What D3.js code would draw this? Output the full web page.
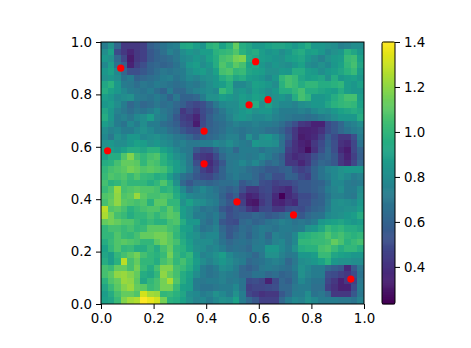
<!DOCTYPE html>
<html><head><meta charset="utf-8">
<script src="https://cdn.jsdelivr.net/npm/d3@7"></script>
<style>html,body{margin:0;padding:0;background:#fff}svg{display:block}text{font-family:"DejaVu Sans",sans-serif}</style>
</head><body><div id="c"></div>
<script>
// heat values, top row first (40 x 40)
const gridRows = [
[.72,.82,.62,.42,.42,.42,.45,.58,.62,.68,.72,.74,.92,.94,.88,.84,.98,1.0,.9,.98,1.12,.96,.92,.86,.86,.9,.92,.92,.9,.85,.9,.95,.85,.85,.82,.8,.74,.76,.8,.8],
[.8,.9,.5,.42,.36,.42,.46,.55,.6,.66,.75,.7,.8,.85,.82,.88,.88,.98,1.0,1.02,1.08,.98,.92,.95,.88,.84,.86,.8,.85,.92,.95,.88,.9,.85,.78,.82,.85,.98,.92,.85],
[.85,.82,.62,.48,.32,.42,.46,.55,.6,.62,.65,.7,.78,.8,.85,.82,.9,.96,1.05,1.08,1.15,1.18,.95,.92,.88,.86,.84,.82,.88,.9,.92,.85,.8,.75,.82,.86,.88,1.02,1.04,.9],
[.78,.88,.68,.58,.35,.45,.52,.6,.62,.6,.62,.68,.75,.85,.88,.8,.85,.95,1.08,1.02,1.1,1.05,.9,.92,.85,.8,.85,.82,.8,.85,.9,.8,.78,.82,.78,.85,.9,1.0,1.05,.92],
[.85,.9,.78,.62,.52,.52,.55,.6,.65,.7,.68,.7,.72,.8,.85,.88,.82,.9,1.05,1.08,1.0,1.02,.92,.9,.88,.82,.82,.86,.85,.95,.95,.88,.86,.8,.85,.88,.92,.98,1.02,.88],
[.82,.85,.8,.68,.72,.6,.62,.65,.68,.72,.74,.68,.72,.78,.75,.8,.82,.85,.95,1.0,.92,.95,.88,.86,.84,.78,.85,1.0,1.05,1.02,.92,.88,.9,.92,.82,.95,.85,.88,.9,.85],
[.92,.98,.85,.72,.7,.65,.7,.68,.72,.7,.68,.65,.68,.72,.7,.75,.8,.85,.88,.95,.78,.78,.82,.9,.88,.85,.8,.98,1.05,1.02,.95,1.0,1.0,.95,.95,.98,1.0,.88,.85,.9],
[.95,.9,.85,.78,.72,.7,.68,.72,.65,.6,.72,.62,.62,.7,.75,.78,.8,.78,1.02,.95,.82,.85,.8,.88,.85,.8,.85,.95,.95,1.0,1.05,.95,.95,.92,.9,.88,.95,.88,.85,.85],
[.88,.85,.78,.8,.82,.72,.7,.68,.72,.68,.6,.7,.6,.6,.62,.72,.82,.82,.88,.85,.82,.88,.85,.9,.88,.8,.82,.85,.8,.95,1.05,1.0,.85,.85,.88,.95,1.0,1.05,1.05,.88],
[.85,.88,.8,.72,.62,.68,.62,.65,.7,.65,.68,.62,.58,.52,.48,.52,.6,.7,.78,.8,.8,.88,.9,.95,.82,.9,.82,.78,.78,.75,.8,.82,.85,.85,.92,.98,1.0,1.02,1.0,.9],
[.92,.85,.75,.7,.65,.7,.68,.72,.78,.7,.66,.6,.42,.48,.42,.5,.55,.62,.7,.78,.8,.85,.88,.82,.85,.85,.78,.72,.72,.72,.75,.72,.78,.82,.8,.85,.9,.92,.95,.92],
[.95,.85,.72,.75,.7,.78,.8,.88,.75,.72,.65,.55,.45,.42,.36,.48,.58,.65,.68,.75,.82,.85,.82,.78,.78,.8,.75,.72,.7,.68,.68,.65,.68,.72,.75,.8,.85,.85,.85,.95],
[.88,.82,.72,.68,.78,.72,.8,.72,.72,.65,.62,.58,.48,.45,.33,.5,.58,.62,.65,.7,.75,.72,.72,.75,.72,.72,.7,.65,.58,.52,.42,.4,.35,.35,.5,.55,.62,.72,.75,.8],
[.8,.75,.78,.72,.72,.78,.82,.78,.72,.72,.66,.62,.55,.5,.48,.55,.6,.62,.66,.72,.7,.68,.7,.72,.7,.66,.65,.6,.52,.42,.34,.35,.36,.4,.5,.55,.62,.68,.72,.75],
[.78,.7,.82,.78,.85,.85,.78,.8,.82,.78,.75,.7,.68,.62,.55,.6,.62,.65,.7,.75,.75,.68,.82,.72,.82,.85,.78,.68,.55,.42,.32,.35,.38,.45,.58,.5,.42,.42,.52,.72],
[.82,.85,.8,.8,.85,.9,.88,.82,.85,.8,.78,.72,.75,.7,.7,.72,.72,.78,.75,.8,.75,.72,.7,.85,.82,.82,.8,.66,.5,.4,.35,.32,.42,.5,.6,.52,.4,.38,.48,.68],
[.88,.88,.85,.9,.95,.95,.92,.98,.98,.9,.85,.78,.72,.7,.55,.48,.5,.58,.68,.72,.62,.72,.72,.72,.68,.72,.7,.68,.45,.4,.36,.28,.4,.52,.62,.52,.38,.33,.48,.6],
[.88,.95,.95,1.08,1.18,1.05,1.0,1.05,1.08,.98,.9,.82,.78,.7,.45,.42,.4,.5,.62,.7,.7,.72,.7,.72,.78,.72,.65,.58,.42,.38,.4,.42,.52,.58,.62,.55,.42,.35,.45,.58],
[.95,.98,1.05,1.12,1.12,1.1,1.0,1.08,1.05,.98,.92,.88,.8,.7,.52,.42,.38,.45,.55,.7,.72,.78,.72,.78,.7,.62,.66,.6,.42,.42,.36,.42,.55,.62,.6,.55,.42,.38,.48,.62],
[1.0,1.05,1.08,1.1,1.15,1.12,1.08,1.1,1.08,1.05,.98,.88,.82,.72,.58,.46,.4,.48,.6,.7,.72,.7,.65,.62,.6,.55,.55,.58,.6,.5,.46,.5,.6,.68,.75,.78,.82,.85,.85,.85],
[1.02,1.08,1.05,1.08,1.02,1.08,1.02,1.0,.95,.98,.88,.78,.68,.62,.55,.5,.48,.55,.6,.68,.72,.68,.68,.62,.55,.6,.52,.52,.6,.58,.5,.46,.6,.68,.72,.78,.82,.78,.72,.75],
[1.05,.98,1.0,1.05,1.0,1.0,1.0,.95,1.0,1.08,.98,.82,.62,.55,.62,.62,.6,.62,.65,.65,.68,.55,.6,.62,.52,.5,.45,.48,.48,.52,.55,.55,.58,.6,.68,.78,.78,.72,.7,.72],
[1.02,1.08,1.22,1.05,1.08,1.1,1.08,1.08,1.05,.98,1.0,.92,.78,.65,.72,.78,.72,.68,.62,.58,.62,.52,.42,.42,.48,.5,.42,.4,.38,.48,.55,.55,.58,.62,.72,.76,.8,.72,.72,.8],
[1.08,1.1,1.2,1.08,1.1,1.22,1.1,1.05,1.05,1.08,1.05,.95,.85,.78,.75,.75,.72,.7,.6,.52,.58,.42,.35,.38,.45,.48,.38,.25,.38,.42,.5,.5,.55,.6,.68,.75,.75,.72,.7,.82],
[1.05,1.12,1.2,1.1,1.08,1.05,1.08,.98,1.1,1.1,1.0,1.0,.82,.9,.82,.8,.75,.72,.62,.55,.52,.45,.32,.3,.42,.48,.36,.35,.4,.38,.52,.52,.58,.6,.7,.8,.82,.8,.78,.85],
[1.28,1.08,1.1,1.05,.98,1.02,1.05,1.08,1.08,1.02,1.1,1.02,.88,.82,.75,.68,.7,.68,.55,.5,.55,.52,.42,.38,.48,.5,.42,.42,.5,.52,.5,.55,.6,.62,.72,.8,.8,.82,.82,.88],
[1.25,1.15,1.05,1.02,.95,1.0,1.0,1.05,1.0,1.05,1.1,1.08,.88,.82,.72,.72,.68,.72,.62,.52,.55,.58,.58,.62,.6,.55,.58,.62,.68,.6,.55,.62,.66,.68,.78,.8,.82,.85,.88,.95],
[1.12,1.15,1.12,1.08,1.08,1.02,.98,1.02,.98,.98,1.05,1.08,.95,.85,.85,.7,.65,.72,.55,.52,.5,.62,.65,.6,.62,.68,.7,.75,.72,.68,.7,.68,.72,.85,.88,.9,.92,.88,.85,.88],
[1.0,1.05,1.05,1.02,1.05,1.0,1.02,1.1,1.1,1.1,1.05,1.02,.9,.88,.78,.68,.7,.75,.62,.55,.58,.65,.62,.68,.72,.7,.68,.72,.72,.7,.72,.82,.85,.92,1.02,.98,1.0,.95,.95,.92],
[1.0,1.0,1.08,1.02,1.0,1.05,1.12,1.12,1.15,1.15,1.1,1.0,.92,.85,.82,.75,.78,.78,.65,.55,.62,.66,.6,.68,.72,.62,.75,.72,.7,.78,.95,.98,1.0,1.02,1.08,1.02,1.05,1.0,.98,1.0],
[.95,1.02,1.08,1.1,1.08,1.05,1.0,1.0,1.1,1.15,1.1,1.05,.95,.88,.8,.8,.8,.75,.68,.62,.66,.68,.65,.7,.72,.68,.75,.78,.7,.78,1.0,1.0,1.02,1.02,1.04,1.12,1.06,.98,1.02,1.05],
[.9,1.0,1.08,1.0,1.02,.95,.95,1.02,.95,1.05,1.12,1.0,.98,.9,.82,.8,.75,.78,.72,.65,.68,.66,.62,.72,.72,.85,.85,.78,.72,.82,.95,.98,.98,1.05,1.08,1.02,.95,1.0,1.0,.95],
[.92,.88,1.0,1.05,1.1,1.15,1.05,1.0,.98,1.02,1.15,1.02,.95,1.0,.85,.75,.78,.82,.88,.78,.72,.7,.68,.62,.7,.82,.82,.75,.7,.72,.85,.85,.88,1.02,1.02,.92,.9,.88,.85,.85],
[.95,.88,.98,1.28,1.05,1.12,1.0,1.0,.95,1.05,1.1,1.0,1.05,.98,.88,.8,.75,.8,.85,.8,.75,.72,.62,.65,.68,.72,.75,.72,.62,.7,.8,.82,.85,.9,.98,.85,.82,.82,.8,.8],
[1.05,1.02,1.12,1.12,1.05,1.15,1.02,.95,1.05,1.18,1.18,1.05,1.02,.95,.85,.72,.68,.72,.8,.78,.72,.62,.58,.62,.7,.72,.7,.68,.65,.72,.82,.78,.72,.72,.62,.58,.55,.38,.55,.7],
[1.05,1.1,1.2,1.22,1.18,1.12,.95,.92,1.0,1.2,1.12,1.05,.95,.9,.8,.72,.68,.7,.75,.72,.7,.62,.62,.68,.68,.62,.65,.6,.62,.68,.82,.76,.72,.72,.52,.5,.45,.42,.5,.68],
[.98,1.08,1.12,1.22,1.2,1.1,.92,1.0,1.05,1.15,1.25,1.08,.95,.88,.72,.7,.72,.72,.75,.7,.72,.68,.5,.52,.48,.34,.5,.62,.58,.68,.78,.72,.68,.68,.48,.42,.35,.42,.45,.7],
[.92,1.02,1.1,1.18,1.22,1.12,1.1,1.02,1.05,1.15,1.15,1.02,.9,.88,.72,.68,.68,.7,.72,.72,.78,.68,.45,.48,.48,.5,.52,.62,.62,.7,.72,.72,.66,.66,.45,.4,.34,.35,.5,.72],
[.88,.95,1.05,1.12,1.12,1.08,1.32,1.24,1.22,1.0,1.02,.98,.92,.8,.78,.72,.75,.82,.78,.72,.82,.72,.48,.44,.4,.42,.42,.55,.62,.72,.72,.8,.68,.7,.62,.42,.42,.42,.55,.7],
[.9,.92,1.02,1.18,1.24,1.26,1.4,1.36,1.32,1.15,.98,.95,.9,.82,.76,.78,.72,.78,.82,.8,.9,.72,.62,.55,.46,.46,.46,.62,.72,.78,.75,.82,.78,.72,.72,.72,.7,.7,.68,.75]
];
const pointX = [.075,.588,.563,.635,.392,.025,.392,.517,.732,.95];
const pointY = [.90,.925,.76,.78,.66,.585,.535,.39,.34,.095];
const axisTicks = [0,.2,.4,.6,.8,1];
const colorTicks = [.4,.6,.8,1,1.2,1.4];
const valueMin = .235, valueMax = 1.4;

const W=471,H=348;
const svg=d3.select("#c").append("svg").attr("width",W).attr("height",H);
const box={l:101,r:364,t:42,b:304};
const x=d3.scaleLinear().domain([0,1]).range([box.l,box.r]);
const y=d3.scaleLinear().domain([0,1]).range([box.b,box.t]);
const color=d3.scaleSequential(d3.interpolateViridis).domain([valueMin,valueMax]);
const n=gridRows.length;
const cells=gridRows.flatMap((r,j)=>r.map((v,i)=>({i,j,v})));
const defs=svg.append("defs");
defs.append("filter").attr("id","soft").attr("x",0).attr("y",0).attr("width",1).attr("height",1)
 .append("feGaussianBlur").attr("stdDeviation",.5).attr("edgeMode","duplicate");
svg.append("g").attr("filter","url(#soft)").attr("shape-rendering","crispEdges")
 .selectAll("rect").data(cells).join("rect")
 .attr("x",d=>x(d.i/n)).attr("y",d=>y(1-d.j/n))
 .attr("width",d=>x((d.i+1)/n)-x(d.i/n))
 .attr("height",d=>y(1-(d.j+1)/n)-y(1-d.j/n))
 .attr("fill",d=>color(d.v));
svg.append("g").selectAll("circle").data(pointX.map((p,i)=>[p,pointY[i]])).join("circle")
 .attr("cx",d=>x(d[0])).attr("cy",d=>y(d[1])).attr("r",3.6).attr("fill","#ff0000");
function style(g){
 g.selectAll("text").attr("font-size",13.4).attr("fill","#000").attr("font-family","DejaVu Sans");
 g.selectAll("line").attr("stroke","#000").attr("stroke-width",1);
 g.select(".domain").attr("stroke","none");
}
const fmt=d3.format(".1f");
svg.append("g").attr("transform",`translate(0,${box.b})`)
 .call(d3.axisBottom(x).tickValues(axisTicks).tickFormat(fmt).tickSize(5).tickPadding(4)).call(style);
svg.append("g").attr("transform",`translate(${box.l},0)`)
 .call(d3.axisLeft(y).tickValues(axisTicks).tickFormat(fmt).tickSize(5).tickPadding(4)).call(style);
svg.append("rect").attr("x",box.l).attr("y",box.t).attr("width",box.r-box.l).attr("height",box.b-box.t)
 .attr("fill","none").attr("stroke","#000").attr("stroke-width",1);
// colour bar
const cb={l:382,r:395};
const cy=d3.scaleLinear().domain([valueMin,valueMax]).range([box.b,box.t]);
const bands=d3.range(256).map(k=>valueMin+(valueMax-valueMin)*k/256);
const bh=(box.b-box.t)/256;
svg.append("g").selectAll("rect").data(bands).join("rect")
 .attr("x",cb.l).attr("width",cb.r-cb.l).attr("y",d=>cy(d)-bh-.3).attr("height",bh+.6).attr("fill",d=>color(d));
svg.append("g").attr("transform",`translate(${cb.r},0)`)
 .call(d3.axisRight(cy).tickValues(colorTicks).tickFormat(fmt).tickSize(5).tickPadding(4)).call(style);
svg.append("rect").attr("x",cb.l).attr("y",box.t).attr("width",cb.r-cb.l).attr("height",box.b-box.t).attr("rx",1.5)
 .attr("fill","none").attr("stroke","#000").attr("stroke-width",1);
</script></body></html>
